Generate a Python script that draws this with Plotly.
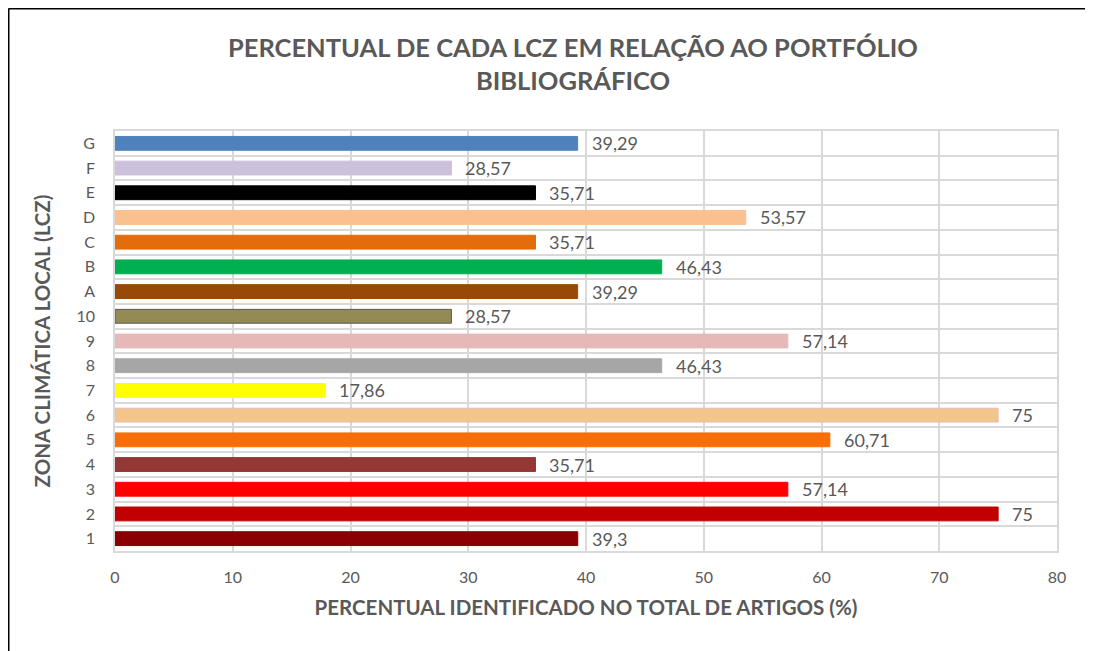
import plotly.graph_objects as go

categories = ["1", "2", "3", "4", "5", "6", "7", "8", "9", "10", "A", "B", "C", "D", "E", "F", "G"]
values = [39.3, 75, 57.14, 35.71, 60.71, 75, 17.86, 46.43, 57.14, 28.57, 39.29, 46.43, 35.71, 53.57, 35.71, 28.57, 39.29]
colors = ["#8B0000", "#C00000", "#FF0000", "#953735", "#FA6E0A", "#F2C68A", "#FFFF00", "#A6A6A6",
          "#E6B9B8", "#948A54", "#984807", "#00B050", "#E46C0A", "#FAC090", "#000000", "#CCC0DA", "#4F81BD"]
outlines = ["#8B0000", "#C00000", "#FF0000", "#953735", "#FA6E0A", "#E6B9B8", "#FFFF00", "#A6A6A6",
            "#E6B9B8", "#595959", "#984807", "#00B050", "#E46C0A", "#FAC090", "#000000", "#CCC0DA", "#4F81BD"]
x_ticks = [0, 10, 20, 30, 40, 50, 60, 70, 80]

title_text = "PERCENTUAL DE CADA LCZ EM RELAÇÃO AO PORTFÓLIO<br>BIBLIOGRÁFICO"
x_title = "PERCENTUAL IDENTIFICADO NO TOTAL DE ARTIGOS (%)"
y_title = "ZONA CLIMÁTICA LOCAL (LCZ)"

FONT = "Lato, 'Open Sans', sans-serif"
GREY = "#595959"
W, H = 1085, 643
ML, MR, MT, MB = 107, 36, 123, 100
pw, ph = W - ML - MR, H - MT - MB

pos = list(range(len(categories)))
labels = [str(v).replace(".", ",") for v in values]

fig = go.Figure()
fig.add_trace(go.Bar(
    x=values, y=pos, orientation="h", width=0.56,
    marker=dict(color=colors, line=dict(color=outlines, width=1)),
    hoverinfo="x+y", showlegend=False,
))

for p, v, t in zip(pos, values, labels):
    fig.add_annotation(x=v, y=p, text=t, showarrow=False, xanchor="left", xshift=12,
                       font=dict(family=FONT, size=18, color=GREY))

fig.update_layout(
    width=W, height=H,
    margin=dict(l=ML, r=MR, t=MT, b=MB, autoexpand=False),
    paper_bgcolor="white", plot_bgcolor="white",
    title=dict(text=title_text, x=565 / W, xanchor="center",
               y=1 - 49 / H, yanchor="top",
               font=dict(family=FONT, size=25.5, color=GREY, weight="bold")),
    font=dict(family=FONT, color=GREY),
    bargap=0.4,
)
fig.update_xaxes(
    range=[0, 80], tickvals=x_ticks, showgrid=True, gridcolor="#D9D9D9", gridwidth=1.5,
    showline=True, linecolor="#D9D9D9", linewidth=1.5, mirror=True, zeroline=False,
    tickfont=dict(family=FONT, size=16, color=GREY), ticks="", ticklabelstandoff=11,
    automargin=False,
    title=dict(text=x_title, font=dict(family=FONT, size=20.5, color=GREY, weight="bold"), standoff=16),
)
fig.update_yaxes(
    range=[-0.5, len(categories) - 0.5], tickvals=pos, ticktext=categories,
    showgrid=False, zeroline=False,
    showline=True, linecolor="#D9D9D9", linewidth=1.5, mirror=True,
    minor=dict(tick0=0.5, dtick=1, showgrid=True, gridcolor="#D9D9D9", gridwidth=1.5, ticks=""),
    tickfont=dict(family=FONT, size=16, color=GREY), ticks="", ticklabelstandoff=15,
    automargin=False,
    title=dict(text=y_title, font=dict(family=FONT, size=20.5, color=GREY, weight="bold"), standoff=20),
)

# outer border (left and top) of the chart frame
x_left = (0.5 - ML) / pw
x_right = (W + 5 - ML) / pw
y_top = 1 + (MT - 0.5) / ph
y_bot = -(MB + 5) / ph
fig.add_shape(type="line", xref="paper", yref="paper", x0=x_left, x1=x_left, y0=y_bot, y1=y_top,
              line=dict(color="black", width=2))
fig.add_shape(type="line", xref="paper", yref="paper", x0=x_left, x1=x_right, y0=y_top, y1=y_top,
              line=dict(color="black", width=2))

fig.write_html("out.html")
